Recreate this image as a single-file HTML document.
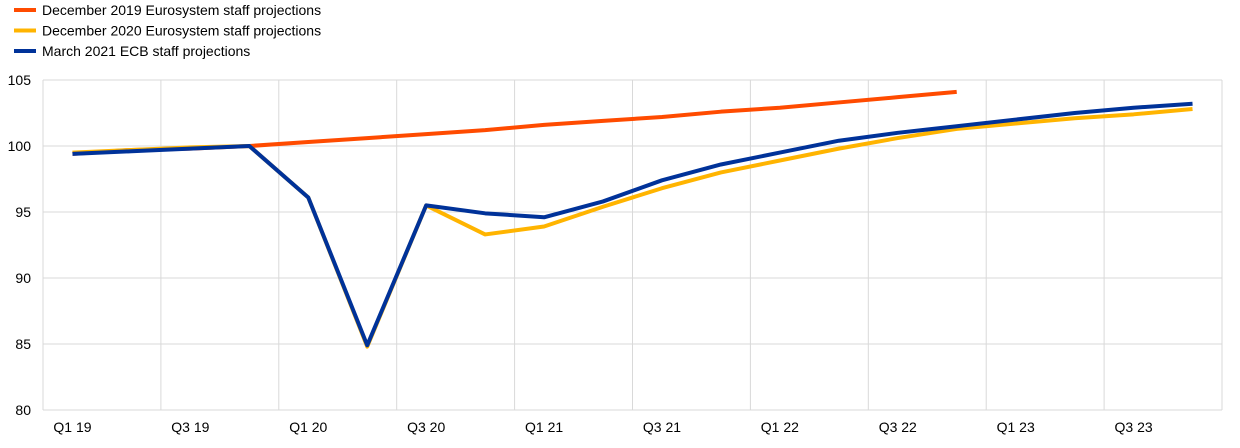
<!DOCTYPE html>
<html><head><meta charset="utf-8"><style>
body{margin:0;background:#fff;width:1240px;height:443px;overflow:hidden;font-family:"Liberation Sans",Arial,sans-serif}
svg text{font-family:"Liberation Sans",Arial,sans-serif;font-size:14px;fill:#000}
</style></head><body>
<svg id="chart" width="1240" height="443" viewBox="0 0 1240 443">
<g id="legend"></g>
<g id="grid"></g>
<g id="yaxis"></g>
<g id="xaxis"></g>
<g id="series"></g>
</svg>
<script>
const categories=["Q1 19","Q2 19","Q3 19","Q4 19","Q1 20","Q2 20","Q3 20","Q4 20","Q1 21","Q2 21","Q3 21","Q4 21","Q1 22","Q2 22","Q3 22","Q4 22","Q1 23","Q2 23","Q3 23","Q4 23"];
const dec2019=[99.4,99.7,99.8,100.0,100.3,100.6,100.9,101.2,101.6,101.9,102.2,102.6,102.9,103.3,103.7,104.1];
const dec2020=[99.5,99.7,99.9,100.0,96.1,84.8,95.5,93.3,93.9,95.4,96.8,98.0,98.9,99.8,100.6,101.3,101.7,102.1,102.4,102.8];
const mar2021=[99.4,99.6,99.8,100.0,96.1,84.9,95.5,94.9,94.6,95.8,97.4,98.6,99.5,100.4,101.0,101.5,102.0,102.5,102.9,103.2];
const yTicks=[80,85,90,95,100,105];
const seriesNames=["December 2019 Eurosystem staff projections","December 2020 Eurosystem staff projections","March 2021 ECB staff projections"];
const NS="http://www.w3.org/2000/svg";
const L=43,R=1222,T=80,B=410,yMin=80,yMax=105;
const band=(R-L)/categories.length;
const x=i=>L+band*(i+0.5);
const y=v=>B-(v-yMin)/(yMax-yMin)*(B-T);
function mk(tag,parent,attrs){const e=document.createElementNS(NS,tag);for(const k in attrs)e.setAttribute(k,attrs[k]);parent.appendChild(e);return e;}
const grid=document.getElementById('grid'),ya=document.getElementById('yaxis'),xa=document.getElementById('xaxis');
yTicks.forEach(v=>{
 const l=mk('line',grid,{x1:L,x2:R,y1:y(v),y2:y(v),stroke:'#d9d9d9','stroke-width':1});
 
 
 const t=mk('text',ya,{x:31,y:y(v)+5,'text-anchor':'end'});t.textContent=v;
 
 
});
for(let i=0;i<=categories.length;i+=2){
 const l=mk('line',grid,{x1:L+band*i,x2:L+band*i,y1:T,y2:B,stroke:'#d9d9d9','stroke-width':1});
 
 
}
categories.forEach((c,i)=>{if(i%2)return;
 const t=mk('text',xa,{x:x(i),y:432,'text-anchor':'middle'});t.textContent=c;
 
 
});
const colors=["#ff4b00","#ffb400","#003299"];
const data=[dec2019,dec2020,mar2021];
const sg=document.getElementById('series');
data.forEach((d,s)=>{
 const p=mk('polyline',sg,{points:d.map((v,i)=>x(i)+','+y(v)).join(' '),fill:'none',stroke:colors[s],'stroke-width':4,'stroke-linejoin':'round'});
 
 
});
const lg=document.getElementById('legend');
seriesNames.forEach((n,s)=>{
 const yy=10+s*20.5;
 const l=mk('line',lg,{x1:14,x2:36,y1:yy,y2:yy,stroke:colors[s],'stroke-width':4});
 
 
 const t=mk('text',lg,{x:42,y:yy+5});t.textContent=n;
 
 
});
</script>
</body></html>
